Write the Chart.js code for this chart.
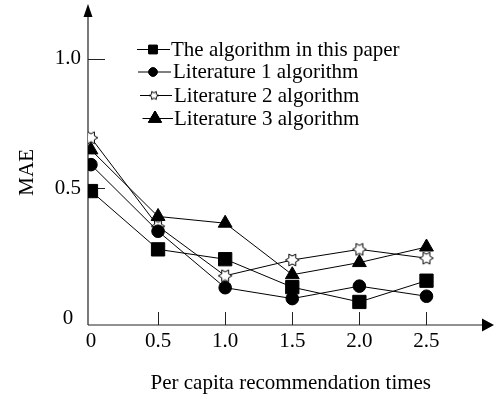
<!DOCTYPE html>
<html>
<head>
<meta charset="utf-8">
<script src="https://cdn.jsdelivr.net/npm/chart.js@4.4.1/dist/chart.umd.min.js"></script>
<style>
  html, body { margin: 0; padding: 0; background: #fff; }
  #wrap { width: 504px; height: 399px; }
</style>
</head>
<body>
<div id="wrap"><canvas id="c" width="504" height="399"></canvas></div>
<script>
// Per capita recommendation times (x) and MAE for each algorithm
const xValues = [0, 0.5, 1.0, 1.5, 2.0, 2.5];
const xTickValues = [0, 0.5, 1.0, 1.5, 2.0, 2.5];
const yTickValues = [0, 0.5, 1.0];
const seriesNames = [
  'The algorithm in this paper',
  'Literature 1 algorithm',
  'Literature 2 algorithm',
  'Literature 3 algorithm'
];
const maeThisPaper = [0.490, 0.265, 0.227, 0.119, 0.062, 0.144];
const maeLit1      = [0.592, 0.335, 0.117, 0.075, 0.123, 0.084];
const maeLit2      = [0.696, 0.354, 0.163, 0.224, 0.265, 0.231];
const maeLit3      = [0.649, 0.392, 0.366, 0.167, 0.214, 0.274];

const FONT = 'Liberation Serif';
const FONT_SIZE = 21;
const INK = '#000';

// Outlined six-pointed star used as a point marker
function hexagram(R, lw) {
  const pad = 2;
  const s = Math.ceil(2 * R + 2 * pad);
  const cv = document.createElement('canvas');
  cv.width = s; cv.height = s;
  const g = cv.getContext('2d');
  const c = s / 2;
  const r = R / Math.sqrt(3);
  g.beginPath();
  for (let i = 0; i < 12; i++) {
    const a = i * Math.PI / 6;
    const rad = i % 2 === 0 ? R : r;
    const px = c + rad * Math.cos(a), py = c + rad * Math.sin(a);
    if (i === 0) g.moveTo(px, py); else g.lineTo(px, py);
  }
  g.closePath();
  g.fillStyle = '#fff';
  g.fill();
  g.lineWidth = lw;
  g.strokeStyle = INK;
  g.stroke();
  return cv;
}
const starBig = hexagram(6.8, 1);
const starSmall = hexagram(4.6, 1);

function pts(ys) { return xValues.map((x, i) => ({ x: x, y: ys[i] })); }

const common = {
  borderColor: INK, borderWidth: 1, tension: 0,
  pointBackgroundColor: INK, pointBorderColor: INK, pointBorderWidth: 1
};

const datasets = [
  Object.assign({}, common, { label: seriesNames[0], data: pts(maeThisPaper), pointStyle: 'rect', pointRadius: 9.4 }),
  Object.assign({}, common, { label: seriesNames[1], data: pts(maeLit1), pointStyle: 'circle', pointRadius: 6.3 }),
  Object.assign({}, common, { label: seriesNames[2], data: pts(maeLit2), pointStyle: starBig, pointRadius: 7 }),
  Object.assign({}, common, { label: seriesNames[3], data: pts(maeLit3), pointStyle: 'triangle', pointRadius: 8 })
];

// Axis lines with arrowheads and inward tick marks
const axesPlugin = {
  id: 'axesArrows',
  beforeDatasetsDraw(chart) {
    const { ctx, scales: { x, y } } = chart;
    const x0 = 88, yAxisPx = y.getPixelForValue(y.min);
    ctx.save();
    ctx.strokeStyle = '#222';
    ctx.lineWidth = 1.2;
    ctx.beginPath();
    ctx.moveTo(x0, yAxisPx); ctx.lineTo(x0, 15);
    ctx.moveTo(x0, yAxisPx); ctx.lineTo(484, yAxisPx);
    ctx.stroke();
    ctx.fillStyle = INK;
    ctx.beginPath();
    ctx.moveTo(x0, 4); ctx.lineTo(x0 - 4.5, 17); ctx.lineTo(x0 + 4.5, 17); ctx.closePath();
    ctx.fill();
    ctx.beginPath();
    ctx.moveTo(494, yAxisPx); ctx.lineTo(482, yAxisPx - 6.5); ctx.lineTo(482, yAxisPx + 6.5); ctx.closePath();
    ctx.fill();
    ctx.lineWidth = 1;
    ctx.strokeStyle = '#222';
    ctx.beginPath();
    xTickValues.forEach(v => {
      if (v === 0) return;
      const px = Math.round(x.getPixelForValue(v)) + 0.5;
      ctx.moveTo(px, yAxisPx); ctx.lineTo(px, yAxisPx - 13);
    });
    yTickValues.forEach(v => {
      if (v === 0) return;
      const py = Math.round(y.getPixelForValue(v)) + 0.5;
      ctx.moveTo(x0, py); ctx.lineTo(x0 + 17, py);
    });
    ctx.stroke();
    ctx.restore();
  },
  afterDraw(chart) {
    // Legend: short line with the series marker, then the name
    const { ctx } = chart;
    const rows = [
      { y: 49.5, x1: 137, x2: 170, mx: 153, tx: 171 },
      { y: 72, x1: 138, x2: 171, mx: 153, tx: 173 },
      { y: 95.5, x1: 140, x2: 172, mx: 154, tx: 174 },
      { y: 118.5, x1: 142.5, x2: 173, mx: 155, tx: 174 }
    ];
    ctx.save();
    rows.forEach((r, i) => {
      ctx.strokeStyle = INK; ctx.lineWidth = 1;
      ctx.beginPath(); ctx.moveTo(r.x1, r.y); ctx.lineTo(r.x2, r.y); ctx.stroke();
      ctx.fillStyle = INK;
      const style = i === 0 ? 'rect' : i === 1 ? 'circle' : i === 2 ? starSmall : 'triangle';
      const rad = i === 0 ? 6 : i === 1 ? 4.2 : i === 2 ? 5 : 7.5;
      Chart.helpers.drawPoint(ctx, { pointStyle: style, radius: rad, borderWidth: 1, rotation: 0 }, r.mx, r.y);
      if (style !== starSmall) { ctx.fill(); ctx.stroke(); }
      ctx.fillStyle = INK;
      ctx.font = FONT_SIZE + 'px "' + FONT + '"';
      ctx.textBaseline = 'middle';
      ctx.textAlign = 'left';
      ctx.fillText(seriesNames[i], r.tx, r.y + 0.5);
    });
    ctx.restore();
  }
};

new Chart(document.getElementById('c'), {
  type: 'line',
  data: { datasets: datasets },
  plugins: [axesPlugin],
  options: {
    responsive: false,
    animation: false,
    layout: { padding: { top: 15, right: 2, left: 0, bottom: 0 } },
    plugins: { legend: { display: false }, tooltip: { enabled: false } },
    scales: {
      x: {
        type: 'linear',
        min: -0.022, max: 3.0,
        grid: { display: false, drawTicks: false },
        border: { display: false },
        afterBuildTicks(scale) { scale.ticks = xTickValues.map(v => ({ value: v })); },
        afterFit(scale) { scale.height = 74; },
        ticks: {
          color: INK, font: { family: FONT, size: FONT_SIZE }, padding: 4,
          maxRotation: 0, autoSkip: false,
          callback: v => v === 0 ? '0' : v.toFixed(1)
        },
        title: {
          display: true, text: 'Per capita recommendation times',
          color: INK, font: { family: FONT, size: FONT_SIZE }, padding: { top: 3, bottom: 3 }
        }
      },
      y: {
        type: 'linear',
        min: -0.027, max: 1.152,
        grid: { display: false, drawTicks: false },
        border: { display: false },
        afterBuildTicks(scale) { scale.ticks = yTickValues.map(v => ({ value: v })); },
        afterFit(scale) { scale.width = 88; },
        ticks: {
          color: INK, font: { family: FONT, size: FONT_SIZE }, padding: 7, crossAlign: 'center',
          autoSkip: false,
          callback: v => v === 0 ? '0' : v.toFixed(1)
        },
        title: {
          display: true, text: 'MAE',
          color: INK, font: { family: FONT, size: FONT_SIZE }, padding: { top: 14.4, bottom: 0 }
        }
      }
    }
  }
});
</script>
</body>
</html>
